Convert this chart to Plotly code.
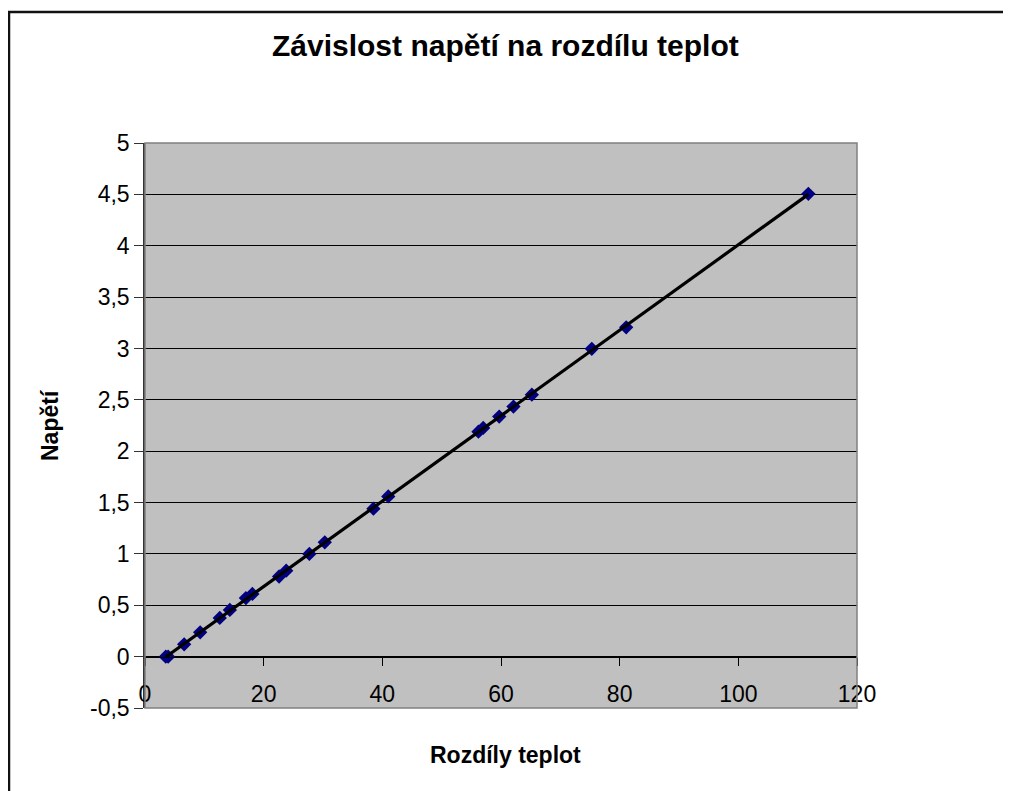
import numpy as np
import plotly.graph_objects as go

# Data
rozdil_teplot = [3.5, 3.9, 6.6, 9.3, 12.6, 14.3, 17.0, 18.1, 22.6, 23.8, 27.7, 30.3,
                 38.5, 41.0, 56.2, 57.0, 59.7, 62.1, 65.2, 75.3, 81.1, 111.8]
napeti = [0.0, 0.0, 0.12, 0.237, 0.377, 0.455, 0.57, 0.61, 0.78, 0.837, 1.0, 1.113,
          1.44, 1.56, 2.19, 2.226, 2.337, 2.434, 2.55, 2.996, 3.206, 4.505]

x_ticks = [0, 20, 40, 60, 80, 100, 120]
y_ticks = [-0.5, 0, 0.5, 1, 1.5, 2, 2.5, 3, 3.5, 4, 4.5, 5]
y_tick_labels = ["-0,5", "0", "0,5", "1", "1,5", "2", "2,5", "3", "3,5", "4", "4,5", "5"]

title_text = "Závislost napětí na rozdílu teplot"
x_title = "Rozdíly teplot"
y_title = "Napětí"

# Linear trendline (least squares)
k, q = np.polyfit(rozdil_teplot, napeti, 1)
tx = [min(rozdil_teplot), max(rozdil_teplot)]
ty = [k * v + q for v in tx]

FONT = "Liberation Sans, Arial, sans-serif"
OFF = 8  # page body margin offset
W, H = 1011 - OFF, 791 - OFF
L, R, T, B = 145 - OFF, 154, 143 - OFF, 83
pw, ph = W - L - R, H - T - B


def px(xp):
    return (xp - OFF - L) / pw


def py(yp):
    return (H - B - (yp - OFF)) / ph


fig = go.Figure()
fig.add_trace(go.Scatter(
    x=rozdil_teplot, y=napeti, mode="markers",
    marker=dict(symbol="diamond", size=11, color="#000080",
                line=dict(width=0)),
    showlegend=False, hoverinfo="x+y"))
fig.add_trace(go.Scatter(
    x=tx, y=ty, mode="lines", line=dict(color="black", width=3.2),
    showlegend=False, hoverinfo="skip"))

fig.update_layout(
    width=W, height=H,
    margin=dict(l=L, r=R, t=T, b=B),
    paper_bgcolor="white",
    plot_bgcolor="#C0C0C0",
    separators=", ",
    font=dict(family=FONT, color="black", size=22),
    xaxis=dict(
        range=[0, 120], tickvals=x_ticks, showgrid=False, zeroline=False,
        anchor="free", position=(0 - (-0.5)) / 5.5,
        showline=True, linecolor="black", linewidth=1,
        ticks="outside", ticklen=8, tickcolor="black", tickwidth=1,
        ticklabelstandoff=9,
        tickfont=dict(family=FONT, size=23, color="black"),
    ),
    yaxis=dict(
        range=[-0.5, 5], tickvals=y_ticks, ticktext=y_tick_labels,
        showgrid=True, gridcolor="black", gridwidth=1, zeroline=False,
        showline=True, linecolor="#333333", linewidth=1.5,
        ticks="outside", ticklen=9, tickcolor="#333333", tickwidth=1,
        tickfont=dict(family=FONT, size=23, color="black"),
    ),
    shapes=[
        # plot-area frame
        dict(type="rect", xref="paper", yref="paper", x0=0, y0=0, x1=1, y1=1,
             line=dict(color="#808080", width=1.5), layer="above"),
        # outer chart border
        dict(type="rect", xref="paper", yref="paper",
             x0=px(9), x1=px(1030), y0=py(12), y1=py(820),
             line=dict(color="#111111", width=2.5)),
    ],
    annotations=[
        dict(text="<b>" + title_text + "</b>", xref="paper", yref="paper",
             x=px(505), y=py(45), xanchor="center", yanchor="middle",
             showarrow=False, font=dict(family=FONT, size=30, color="black")),
        dict(text="<b>" + x_title + "</b>", xref="paper", yref="paper",
             x=px(505), y=py(755), xanchor="center", yanchor="middle",
             showarrow=False, font=dict(family=FONT, size=23, color="black")),
        dict(text="<b>" + y_title + "</b>", xref="paper", yref="paper",
             x=px(50), y=py(425), xanchor="center", yanchor="middle",
             textangle=-90, showarrow=False,
             font=dict(family=FONT, size=23, color="black")),
    ],
)

fig.write_html("out.html")
